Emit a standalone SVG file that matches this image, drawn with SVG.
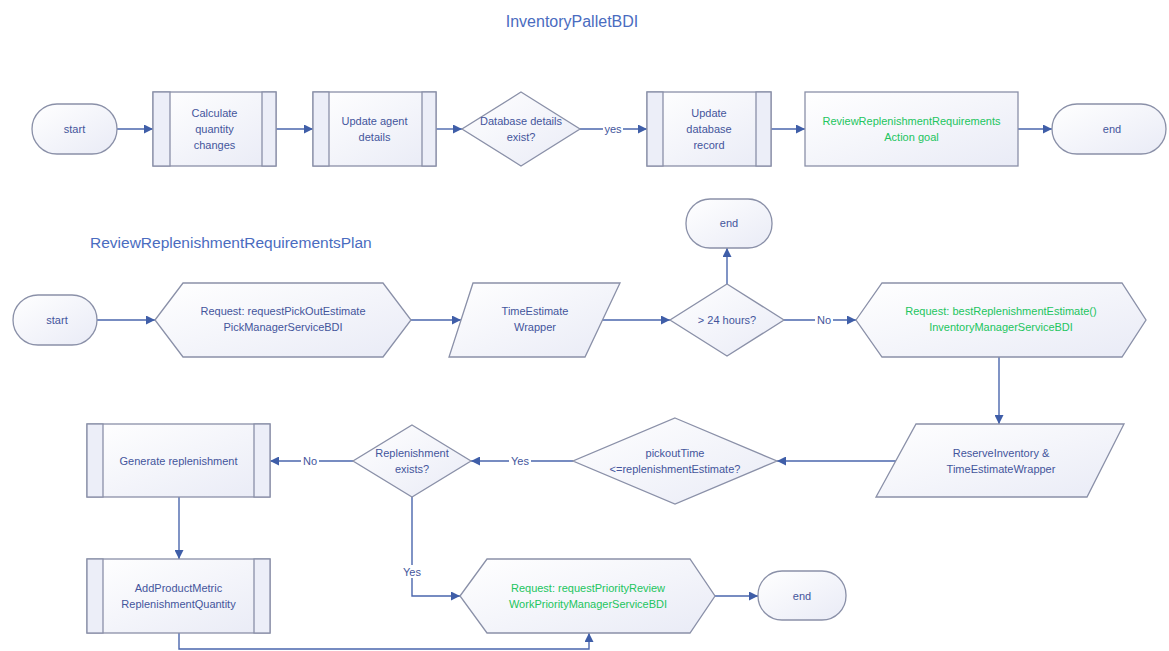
<svg xmlns="http://www.w3.org/2000/svg" width="1169" height="651" viewBox="0 0 1169 651">
<defs>
<linearGradient id="fillg" x1="0" y1="0" x2="1" y2="1">
<stop offset="0" stop-color="#ffffff"/>
<stop offset="1" stop-color="#e9ebf6"/>
</linearGradient>
<marker id="arr" viewBox="0 0 10 10" refX="10" refY="5" markerWidth="9" markerHeight="9" markerUnits="userSpaceOnUse" orient="auto">
<path d="M0,0 L10,5 L0,10 z" fill="#3f5ea8"/>
</marker>
</defs>
<style>
.shape{fill:url(#fillg);stroke:#8a90a8;stroke-width:1.3}
.strip{fill:#eceef8;stroke:#8a90a8;stroke-width:1.3}
.t{font-family:"Liberation Sans",Arial,sans-serif;font-size:11px;fill:#44559c;text-anchor:middle}
.g{fill:#22c55e}
.title{font-family:"Liberation Sans",Arial,sans-serif;font-size:16px;fill:#4a6cc0}
.c{fill:none;stroke:#4a66ad;stroke-width:1.4}
.lbl{font-family:"Liberation Sans",Arial,sans-serif;font-size:11px;fill:#44559c;text-anchor:middle}
.lb{fill:#ffffff}
</style>
<rect width="1169" height="651" fill="#ffffff"/>

<text class="title" x="572" y="27" text-anchor="middle">InventoryPalletBDI</text>
<text class="title" x="90" y="248" style="font-size:15.5px">ReviewReplenishmentRequirementsPlan</text>

<g id="connectors">
<path class="c" d="M117,129 H153" marker-end="url(#arr)"/>
<path class="c" d="M276,129 H313" marker-end="url(#arr)"/>
<path class="c" d="M436,129 H462" marker-end="url(#arr)"/>
<path class="c" d="M580,129 H647" marker-end="url(#arr)"/>
<path class="c" d="M771,129 H805" marker-end="url(#arr)"/>
<path class="c" d="M1018,129 H1052" marker-end="url(#arr)"/>
<path class="c" d="M97,320 H155" marker-end="url(#arr)"/>
<path class="c" d="M411,320 H461" marker-end="url(#arr)"/>
<path class="c" d="M602,320 H670" marker-end="url(#arr)"/>
<path class="c" d="M727,284 V248" marker-end="url(#arr)"/>
<path class="c" d="M784,320 H856" marker-end="url(#arr)"/>
<path class="c" d="M999,357 V424" marker-end="url(#arr)"/>
<path class="c" d="M896,461 H777" marker-end="url(#arr)"/>
<path class="c" d="M573,461 H471" marker-end="url(#arr)"/>
<path class="c" d="M353,461 H270" marker-end="url(#arr)"/>
<path class="c" d="M179,497 V559" marker-end="url(#arr)"/>
<path class="c" d="M179,633 V649 H589 V633" marker-end="url(#arr)"/>
<path class="c" d="M412,497 V596 H460" marker-end="url(#arr)"/>
<path class="c" d="M715,596 H758" marker-end="url(#arr)"/>
<rect class="lb" x="603" y="122" width="20" height="13"/>
<text class="lbl" x="613" y="133">yes</text>
<rect class="lb" x="815" y="313" width="18" height="13"/>
<text class="lbl" x="824" y="324">No</text>
<rect class="lb" x="509" y="454" width="22" height="13"/>
<text class="lbl" x="520" y="465">Yes</text>
<rect class="lb" x="301" y="454" width="18" height="13"/>
<text class="lbl" x="310" y="465">No</text>
<rect class="lb" x="401" y="565" width="22" height="13"/>
<text class="lbl" x="412" y="576">Yes</text>
</g>

<g id="start1">
<rect class="shape" x="32" y="104" width="85" height="50" rx="25"/>
<text class="t" x="74.5" y="133">start</text>
</g>
<g id="calc">
<rect class="shape" x="153" y="92" width="123" height="74"/>
<rect class="strip" x="153" y="92" width="17" height="74"/>
<rect class="strip" x="262" y="92" width="14" height="74"/>
<text class="t" x="214.5" y="117">Calculate</text>
<text class="t" x="214.5" y="133">quantity</text>
<text class="t" x="214.5" y="149">changes</text>
</g>
<g id="updagent">
<rect class="shape" x="313" y="92" width="123" height="74"/>
<rect class="strip" x="313" y="92" width="16" height="74"/>
<rect class="strip" x="422" y="92" width="14" height="74"/>
<text class="t" x="374.5" y="125">Update agent</text>
<text class="t" x="374.5" y="141">details</text>
</g>
<g id="dbexist">
<polygon class="shape" points="521,92 580,129 521,166 462,129"/>
<text class="t" x="521" y="125">Database details</text>
<text class="t" x="521" y="141">exist?</text>
</g>
<g id="upddb">
<rect class="shape" x="647" y="92" width="124" height="74"/>
<rect class="strip" x="647" y="92" width="16" height="74"/>
<rect class="strip" x="756" y="92" width="15" height="74"/>
<text class="t" x="709" y="117">Update</text>
<text class="t" x="709" y="133">database</text>
<text class="t" x="709" y="149">record</text>
</g>
<g id="reviewgoal">
<rect class="shape" x="805" y="92" width="213" height="74"/>
<text class="t g" x="911.5" y="125">ReviewReplenishmentRequirements</text>
<text class="t g" x="911.5" y="141">Action goal</text>
</g>
<g id="end1">
<rect class="shape" x="1052" y="104" width="114" height="50" rx="25"/>
<text class="t" x="1112" y="133">end</text>
</g>

<g id="start2">
<rect class="shape" x="13" y="295" width="84" height="50" rx="25"/>
<text class="t" x="57" y="324">start</text>
</g>
<g id="reqpick">
<polygon class="shape" points="155,320 183,283 383,283 411,320 383,357 183,357"/>
<text class="t" x="283" y="315">Request: requestPickOutEstimate</text>
<text class="t" x="283" y="331">PickManagerServiceBDI</text>
</g>
<g id="timewrap">
<polygon class="shape" points="473,283 620,283 585,357 449,357"/>
<text class="t" x="535" y="315">TimeEstimate</text>
<text class="t" x="535" y="331">Wrapper</text>
</g>
<g id="hours">
<polygon class="shape" points="727,284 784,320 727,356 670,320"/>
<text class="t" x="727" y="324">&gt; 24 hours?</text>
</g>
<g id="end2">
<rect class="shape" x="686" y="199" width="86" height="49" rx="24"/>
<text class="t" x="729" y="227">end</text>
</g>
<g id="reqbest">
<polygon class="shape" points="856,320 882,283 1122,283 1146,320 1122,357 882,357"/>
<text class="t g" x="1001" y="315">Request: bestReplenishmentEstimate()</text>
<text class="t g" x="1001" y="331">InventoryManagerServiceBDI</text>
</g>
<g id="reserve">
<polygon class="shape" points="916,424 1124,424 1087,497 876,497"/>
<text class="t" x="1001" y="457">ReserveInventory &amp;</text>
<text class="t" x="1001" y="473">TimeEstimateWrapper</text>
</g>
<g id="pickout">
<polygon class="shape" points="675,418 777,461 675,504 573,461"/>
<text class="t" x="675" y="457">pickoutTime</text>
<text class="t" x="675" y="473">&lt;=replenishmentEstimate?</text>
</g>
<g id="replexists">
<polygon class="shape" points="412,425 471,461 412,497 353,461"/>
<text class="t" x="412" y="457">Replenishment</text>
<text class="t" x="412" y="473">exists?</text>
</g>
<g id="generate">
<rect class="shape" x="87" y="424" width="183" height="73"/>
<rect class="strip" x="87" y="424" width="16" height="73"/>
<rect class="strip" x="254" y="424" width="16" height="73"/>
<text class="t" x="178.5" y="465">Generate replenishment</text>
</g>
<g id="addmetric">
<rect class="shape" x="87" y="559" width="183" height="74"/>
<rect class="strip" x="87" y="559" width="16" height="74"/>
<rect class="strip" x="254" y="559" width="16" height="74"/>
<text class="t" x="178.5" y="592">AddProductMetric</text>
<text class="t" x="178.5" y="608">ReplenishmentQuantity</text>
</g>
<g id="reqprio">
<polygon class="shape" points="460,596 487,559 690,559 715,596 690,633 487,633"/>
<text class="t g" x="588" y="592">Request: requestPriorityReview</text>
<text class="t g" x="588" y="608">WorkPriorityManagerServiceBDI</text>
</g>
<g id="end3">
<rect class="shape" x="758" y="571" width="88" height="49" rx="24"/>
<text class="t" x="802" y="600">end</text>
</g>
</svg>
